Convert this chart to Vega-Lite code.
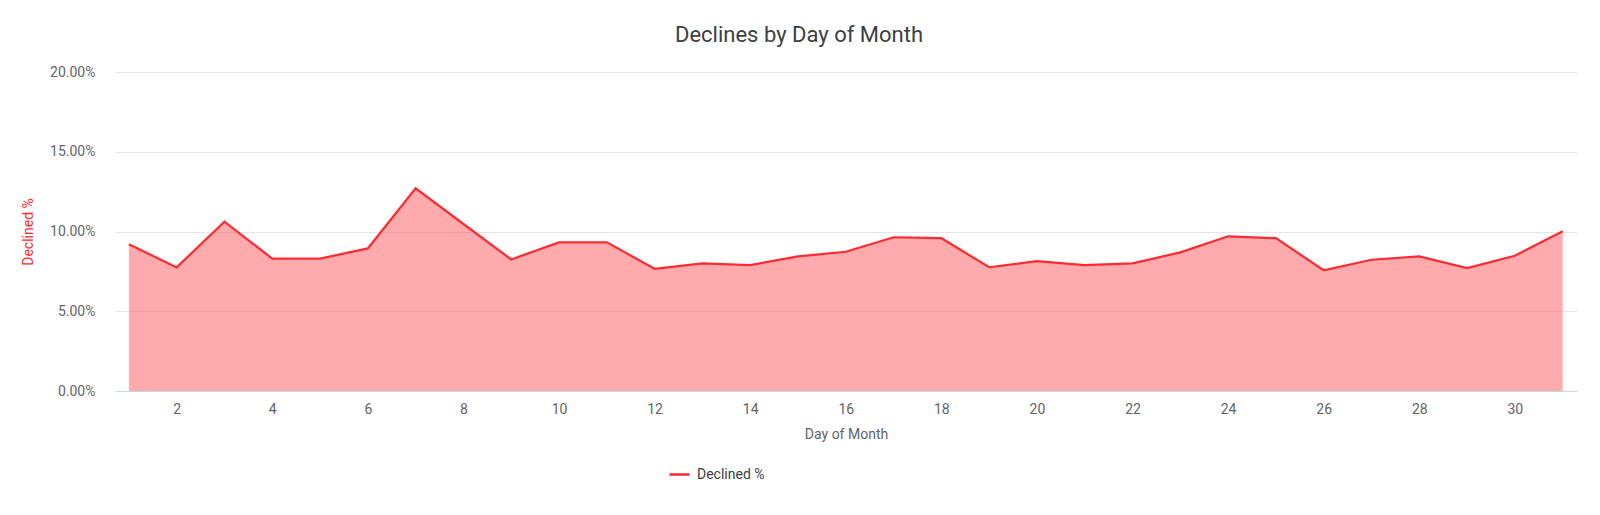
{
  "$schema": "https://vega.github.io/schema/vega-lite/v6.json",
  "width": 1462,
  "height": 319,
  "autosize": {"type": "none"},
  "padding": {"left": 115, "top": 72, "right": 23, "bottom": 124},
  "background": "#ffffff",
  "title": {
    "text": "Declines by Day of Month",
    "anchor": "middle",
    "frame": "bounds",
    "font": "Roboto",
    "fontSize": 22,
    "fontWeight": "normal",
    "color": "#3c4043",
    "offset": 18
  },
  "data": {
    "values": [
      {"day": 1, "rate": 0.0920, "series": "Declined %"},
      {"day": 2, "rate": 0.0775, "series": "Declined %"},
      {"day": 3, "rate": 0.1062, "series": "Declined %"},
      {"day": 4, "rate": 0.0830, "series": "Declined %"},
      {"day": 5, "rate": 0.0830, "series": "Declined %"},
      {"day": 6, "rate": 0.0894, "series": "Declined %"},
      {"day": 7, "rate": 0.1271, "series": "Declined %"},
      {"day": 8, "rate": 0.1047, "series": "Declined %"},
      {"day": 9, "rate": 0.0825, "series": "Declined %"},
      {"day": 10, "rate": 0.0932, "series": "Declined %"},
      {"day": 11, "rate": 0.0932, "series": "Declined %"},
      {"day": 12, "rate": 0.0766, "series": "Declined %"},
      {"day": 13, "rate": 0.0800, "series": "Declined %"},
      {"day": 14, "rate": 0.0789, "series": "Declined %"},
      {"day": 15, "rate": 0.0844, "series": "Declined %"},
      {"day": 16, "rate": 0.0873, "series": "Declined %"},
      {"day": 17, "rate": 0.0964, "series": "Declined %"},
      {"day": 18, "rate": 0.0958, "series": "Declined %"},
      {"day": 19, "rate": 0.0776, "series": "Declined %"},
      {"day": 20, "rate": 0.0814, "series": "Declined %"},
      {"day": 21, "rate": 0.0789, "series": "Declined %"},
      {"day": 22, "rate": 0.0800, "series": "Declined %"},
      {"day": 23, "rate": 0.0869, "series": "Declined %"},
      {"day": 24, "rate": 0.0970, "series": "Declined %"},
      {"day": 25, "rate": 0.0958, "series": "Declined %"},
      {"day": 26, "rate": 0.0757, "series": "Declined %"},
      {"day": 27, "rate": 0.0823, "series": "Declined %"},
      {"day": 28, "rate": 0.0844, "series": "Declined %"},
      {"day": 29, "rate": 0.0770, "series": "Declined %"},
      {"day": 30, "rate": 0.0848, "series": "Declined %"},
      {"day": 31, "rate": 0.1002, "series": "Declined %"}
    ]
  },
  "encoding": {
    "x": {
      "field": "day",
      "type": "quantitative",
      "scale": {"domain": [0.71, 31.3], "nice": false, "zero": false},
      "axis": {
        "title": "Day of Month",
        "values": [2, 4, 6, 8, 10, 12, 14, 16, 18, 20, 22, 24, 26, 28, 30],
        "grid": false,
        "ticks": false,
        "domainColor": "#ccd6eb",
        "domainWidth": 1,
        "labelFont": "Roboto",
        "labelFontSize": 14,
        "labelColor": "#5f6368",
        "labelPadding": 11,
        "titleFont": "Roboto",
        "titleFontSize": 14,
        "titleFontWeight": "normal",
        "titleColor": "#5f6368",
        "titlePadding": 11
      }
    },
    "y": {
      "field": "rate",
      "type": "quantitative",
      "scale": {"domain": [0, 0.2], "nice": false},
      "axis": {
        "title": "Declined %",
        "format": ".2%",
        "values": [0, 0.05, 0.1, 0.15, 0.2],
        "domain": false,
        "ticks": false,
        "gridColor": "#e6e6e6",
        "gridWidth": 1,
        "labelFont": "Roboto",
        "labelFontSize": 14,
        "labelColor": "#5f6368",
        "labelPadding": 20,
        "titleFont": "Roboto",
        "titleFontSize": 14,
        "titleFontWeight": "normal",
        "titleColor": "#ff2a30",
        "titleX": -87,
        "titleY": 159.5,
        "titleAngle": -90,
        "titleAlign": "center",
        "titleBaseline": "middle"
      }
    }
  },
  "layer": [
    {
      "mark": {"type": "area", "color": "#ff2a30", "fillOpacity": 0.4}
    },
    {
      "mark": {"type": "line", "strokeWidth": 2.2},
      "encoding": {
        "color": {
          "field": "series",
          "type": "nominal",
          "scale": {"range": ["#ff2a30"]},
          "legend": {
            "title": null,
            "orient": "none",
            "legendX": 553,
            "legendY": 391,
            "direction": "horizontal",
            "symbolType": "stroke",
            "symbolSize": 400,
            "symbolStrokeWidth": 2.5,
            "labelFont": "Roboto",
            "labelFontSize": 14,
            "labelColor": "#3c4043",
            "labelOffset": 6
          }
        }
      }
    }
  ],
  "config": {"view": {"stroke": null}}
}
